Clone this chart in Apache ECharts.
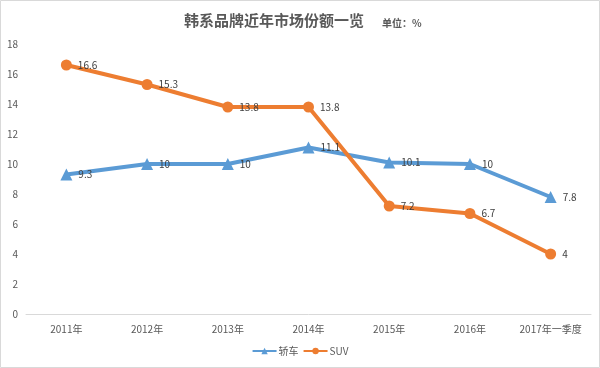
<!DOCTYPE html>
<html><head><meta charset="utf-8">
<script src="https://cdn.jsdelivr.net/npm/echarts@6/dist/echarts.min.js"></script>
<style>html,body{margin:0;padding:0;background:#fff}#c{width:600px;height:368px}</style>
</head><body><div id="c"></div>
<script>
var categories = ['2011年','2012年','2013年','2014年','2015年','2016年','2017年一季度'];
var sedan = [9.3, 10, 10, 11.1, 10.1, 10, 7.8];
var suv = [16.6, 15.3, 13.8, 13.8, 7.2, 6.7, 4];
var yTicks = [0,2,4,6,8,10,12,14,16,18];
var font = '"Microsoft YaHei","Noto Sans CJK SC",sans-serif';
var chart = echarts.init(document.getElementById('c'));
chart.setOption({
  animation:false,
  textStyle:{fontFamily:font},
  title:[{text:'韩系品牌近年市场份额一览',left:179,top:8,textStyle:{fontSize:15,fontWeight:'bold',color:'#595959',fontFamily:font}},
         {text:'单位：%',left:377,top:13,textStyle:{fontSize:10,fontWeight:'bold',color:'#595959',fontFamily:font}}],
  graphic:[{type:'rect',shape:{x:0.5,y:0.5,width:599,height:367},style:{fill:'none',stroke:'#d9d9d9',lineWidth:1},silent:true}],
  legend:{bottom:7,left:'center',itemWidth:24,itemHeight:8,itemGap:4,textStyle:{fontSize:10,color:'#595959',padding:[0,0,0,-3]},data:['轿车','SUV']},
  grid:{left:26,right:9,top:44,bottom:54,containLabel:false},
  xAxis:{type:'category',data:categories,boundaryGap:true,
    axisLine:{lineStyle:{color:'#d9d9d9'}},axisTick:{show:false},
    axisLabel:{color:'#595959',fontSize:10,margin:10,interval:0}},
  yAxis:{type:'value',min:yTicks[0],max:yTicks[yTicks.length-1],interval:2,
    axisLine:{show:false},axisTick:{show:false},splitLine:{show:false},
    axisLabel:{color:'#595959',fontSize:10,margin:8}},
  series:[
    {name:'轿车',type:'line',data:sedan,symbol:'triangle',symbolSize:12,
     lineStyle:{width:4,color:'#5B9BD5'},itemStyle:{color:'#5B9BD5'},
     label:{show:true,position:'right',distance:6,color:'#404040',fontSize:10}},
    {name:'SUV',type:'line',data:suv,symbol:'circle',symbolSize:11,
     lineStyle:{width:4,color:'#ED7D31'},itemStyle:{color:'#ED7D31'},
     label:{show:true,position:'right',distance:6,color:'#404040',fontSize:10}}
  ]
});
</script></body></html>
